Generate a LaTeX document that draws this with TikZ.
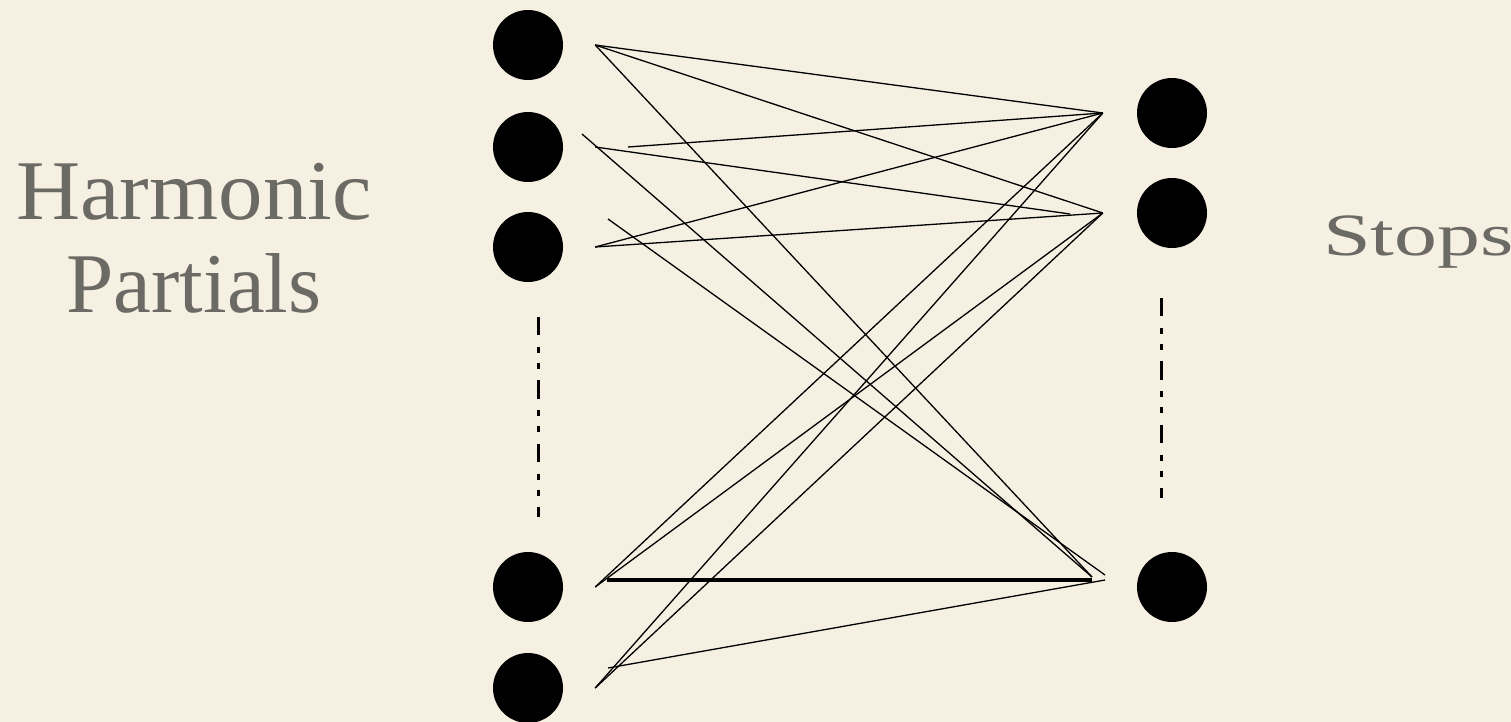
\documentclass[tikz,border=0pt]{standalone}
\usepackage{fontspec}
\setmainfont{Liberation Serif}
\usetikzlibrary{positioning}
\definecolor{paper}{RGB}{245,240,226}
\definecolor{labelgray}{RGB}{108,106,100}

\begin{document}
\begin{tikzpicture}[
  x=1pt,y=-1pt,
  dot/.style={circle,fill=black,draw=none,inner sep=0pt,minimum size=70},
  label/.style={inner sep=0pt,text=labelgray},
  link/.style={line width=1.3pt},
  fat link/.style={line width=3.3pt},
  gap line/.style={line width=3pt,
    dash pattern=on 18.3pt off 11.7pt on 6pt off 10pt on 6pt off 11.3pt}
]
  \useasboundingbox[fill=paper] (0,0) rectangle (1511,722);

  % partials
  \node[dot] (l1) at (528,45) {};
  \node[dot] (l2) at (528,147) {};
  \node[dot] (l3) at (528,247) {};
  \node[dot] (l4) at (528,587) {};
  \node[dot] (l5) at (528,688) {};
  % stops
  \node[dot] (r1) at (1172,113) {};
  \node[dot] (r2) at (1172,213) {};
  \node[dot] (r3) at (1172,587) {};

  \node[label,anchor=base,font=\fontsize{85}{93}\selectfont] (harm) at (194,219) {\scalebox{1.045}[1]{Harmonic}};
  \node[label,anchor=base,font=\fontsize{85}{93}\selectfont] (part) at (194,312) {Partials};
  \node[label,anchor=base west,font=\fontsize{60}{70}\selectfont] (stops) at (1323,255) {\scalebox{1.43}[1]{Stops}};

  \coordinate (gl) at (538,317);
  \coordinate (gl') at (538,517);
  \coordinate (gr) at (1161,298);
  \coordinate (gr') at (1161,498);
  \draw[gap line] (gl) -- (gl');
  \draw[gap line] (gr) -- (gr');

  % line ends
  \foreach \i in {1,...,5}
    \coordinate[right=32 of l\i] (h\i);
  \coordinate[left=34 of r1] (g1);
  \coordinate[left=34 of r2] (g2);
  \coordinate (l2b) at (628,147);
  \coordinate (l2c) at (582,134);
  \coordinate (l3b) at (608,219);
  \coordinate (l4b) at (607,580);
  \coordinate (l5b) at (608,668);
  \coordinate (r2b) at (1070,214);
  \coordinate (r3a) at (1092,577);
  \coordinate (r3b) at (1105,575);
  \coordinate (r3c) at (1092,580);
  \coordinate (r3d) at (1105,580);

  \foreach \a in {h1,h3,h4,h5}{
    \draw[link] (\a) -- (g1);
    \draw[link] (\a) -- (g2);
  }
  \draw[link] (l2b) -- (g1);
  \draw[link] (h2) -- (r2b);
  \draw[link] (h1) -- (r3a);
  \draw[link] (l2c) -- (r3a);
  \draw[link] (l3b) -- (r3b);
  \draw[link] (l5b) -- (r3d);
  \draw[fat link] (l4b) -- (r3c);
\end{tikzpicture}
\end{document}
